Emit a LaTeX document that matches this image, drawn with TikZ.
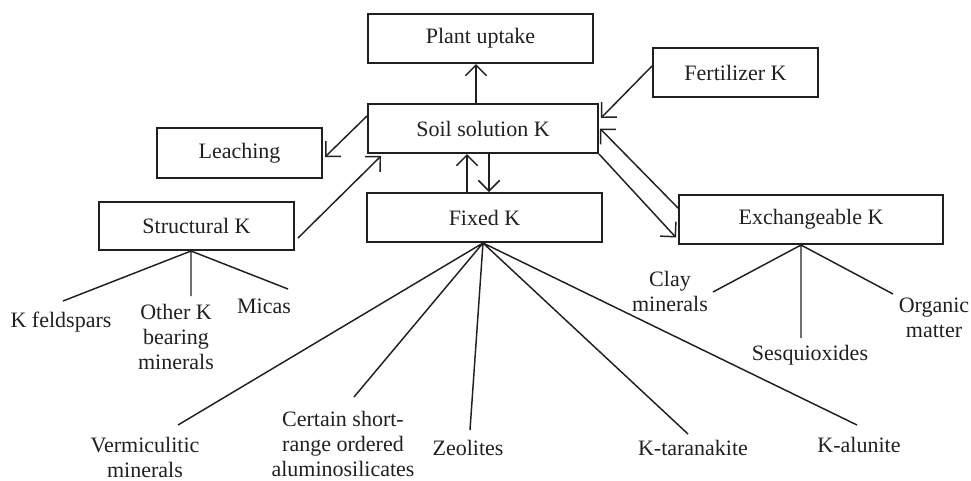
\documentclass[tikz,border=0pt]{standalone}
\usepackage{fontspec}
\setmainfont{Liberation Serif}
\usetikzlibrary{arrows.meta,calc}
\definecolor{ink}{RGB}{35,31,32}
\begin{document}
\begin{tikzpicture}[x=0.75pt,y=-0.75pt,
  font=\fontsize{16.5}{18.75}\selectfont, text=ink,
  box/.style={draw=ink,line width=1.5pt,inner sep=0pt,rectangle},
  lbl/.style={align=center,inner sep=0pt},
  conn/.style={draw=ink,line width=1.1pt},
  arr/.style={conn,-{Straight Barb[length=8pt,width=16pt,line width=1.1pt]}}]
\useasboundingbox (0,0) rectangle (971,480);
% boxes
\node[box,minimum width=168.75pt,minimum height=36.75pt] (plant) at (480.5,38.5) {Plant uptake};
\node[box,minimum width=172.5pt,minimum height=36.75pt] (soil) at (483,128.5) {Soil solution K};
\node[box,minimum width=123.75pt,minimum height=36.75pt] (fert) at (735.5,72.5) {Fertilizer K};
\node[box,minimum width=123.75pt,minimum height=37.5pt] (leach) at (239.5,153) {Leaching};
\node[box,minimum width=146.25pt,minimum height=36pt] (struct) at (196.5,226) {Structural K};
\node[box,minimum width=176.25pt,minimum height=36.75pt] (fixed) at (484.5,217.5) {Fixed K};
\node[box,minimum width=198pt,minimum height=36.75pt] (exch) at (811,219.5) {Exchangeable K};
% arrows
\draw[arr] ($(soil.north)+(-7,0)$) -- ($(plant.south)+(-4.5,0)$);
\draw[arr] ($(fert.west)+(0,-6.5)$) -- ($(soil.east)+(2,-10.5)$);
\draw[arr] ($(soil.west)+(0,-12.5)$) -- ($(leach.east)+(2,4)$);
\draw[arr] ($(struct.east)+(3,12)$) -- ($(soil.south west)+(14,2)$);
\draw[arr] ($(fixed.north)+(-17.5,0)$) -- ($(soil.south)+(-16,0)$);
\draw[arr] ($(soil.south)+(6,0)$) -- ($(fixed.north)+(4.5,0)$);
\draw[arr] ($(exch.west)+(0,-11.5)$) -- ($(soil.east)+(1,0)$);
\draw[arr] (soil.south east) -- ($(exch.west)+(-2,18)$);
% structural tree
\coordinate (sfan) at ($(struct.south)+(-5.5,0)$);
\coordinate (s1) at (63,301);
\coordinate (s2) at (191,296);
\coordinate (s3) at (288,289);
\draw[conn] (s1) -- (sfan) -- (s3) (sfan) -- (s2);
\node[lbl] (kfeld) at (61,322) {K feldspars};
\node[lbl] (otherk) at (176,337) {Other K\\bearing\\minerals};
\node[lbl] (micas) at (264,306) {Micas};
% fixed tree
\coordinate (ffan) at ($(fixed.south)+(-1.5,0)$);
\coordinate (f1) at (178,425);
\coordinate (f2) at (354,397);
\coordinate (f3) at (470,430);
\coordinate (f4) at (688,434);
\coordinate (f5) at (857,425);
\draw[conn] (ffan) -- (f1) (ffan) -- (f2) (ffan) -- (f3) (ffan) -- (f4) (ffan) -- (f5);
\node[lbl] (verm) at (145,457) {Vermiculitic\\minerals};
\node[lbl] (cert) at (343,444) {Certain short-\\range ordered\\aluminosilicates};
\node[lbl] (zeo) at (468,448) {Zeolites};
\node[lbl] (ktar) at (693,448) {K-taranakite};
\node[lbl] (kal) at (859,445) {K-alunite};
% exchangeable tree
\coordinate (efan) at ($(exch.south)+(-10,0)$);
\coordinate (e1) at (713,292);
\coordinate (e2) at (801,338);
\coordinate (e3) at (893,294);
\draw[conn] (efan) -- (e1) (efan) -- (e2) (efan) -- (e3);
\node[lbl] (clay) at (670,291) {Clay\\minerals};
\node[lbl] (sesq) at (810,355) {Sesquioxides};
\node[lbl] (org) at (934,318) {Organic\\matter};
\end{tikzpicture}
\end{document}
